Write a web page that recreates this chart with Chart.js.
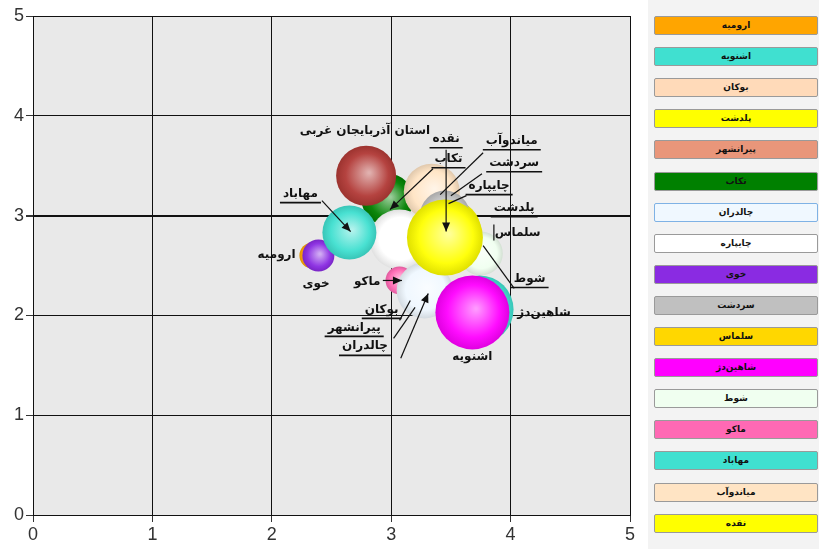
<!DOCTYPE html>
<html>
<head>
<meta charset="utf-8">
<script src="https://cdn.jsdelivr.net/npm/chart.js"></script>
<style>
  html, body { margin:0; padding:0; background:#fff; }
  body { width:819px; height:549px; position:relative; overflow:hidden; }
  #wrap { position:absolute; left:0; top:0; width:645px; height:549px; }
  #legend { position:absolute; left:648px; top:0; width:171px; height:549px; background:#f3f3f3; }
  .lg { position:absolute; left:6px; width:162px; height:17px; border:1px solid #9a9a9a; border-radius:2px;
        font:bold 9px "DejaVu Sans", sans-serif; color:#111; text-align:center; line-height:17px; direction:rtl; }
</style>
</head>
<body>
<div id="wrap"><canvas id="c"></canvas></div>
<div id="legend"></div>
<script>
// cities (legend order) and their bubble values
const cities = ['ارومیه','اشنویه','بوکان','پلدشت','پیرانشهر','تکاب','چالدران','چایپاره','خوی','سردشت','سلماس','شاهین‌دژ','شوط','ماکو','مهاباد','میاندوآب','نقده'];
const xVals  = [2.34, 3.74, 3.28, 3.50, 3.30, 2.97, 3.28, 3.07, 2.39, 3.45, 3.45, 3.68, 3.75, 3.07, 2.65, 3.34, 3.45];
const yVals  = [2.60, 2.06, 2.25, 2.85, 2.28, 3.16, 2.25, 2.76, 2.60, 3.00, 2.78, 2.03, 2.62, 2.35, 2.83, 3.24, 2.78];
const sizes  = [13,   34,   15,   30,   16,   26,   28,   30,   16,   25,   25,   37,   22,   14,   27,   28,   38];
const colors = ['#FFA500','#40E0D0','#FFDAB9','#FFFF00','#E9967A','#008000','#F0F8FF','#FFFFFF','#8A2BE2','#C0C0C0','#FFD700','#FF00FF','#F0FFF0','#FF69B4','#40E0D0','#FFE4C4','#FFFF00'];

// province total (not in the legend)
const provName = 'استان آذربایجان غربی';
const provX = 2.79, provY = 3.40, provR = 30, provColor = '#B23A36';

// back-to-front drawing order
const drawOrder = ['ارومیه','خوی','تکاب','میاندوآب','پلدشت','سردشت','سلماس','چایپاره','مهاباد','شوط','بوکان','پیرانشهر','ماکو','چالدران','اشنویه','شاهین‌دژ','نقده'];

const xTicks = [0,1,2,3,4,5];
const yTicks = [0,1,2,3,4,5];

// legend boxes
const lg = document.getElementById('legend');
cities.forEach((n,i) => {
  const d = document.createElement('div');
  d.className = 'lg';
  d.style.top = (16 + i*31.1) + 'px';
  d.style.background = colors[i];
  if (n === 'چالدران') d.style.borderColor = '#7fb2e5';
  d.textContent = n;
  lg.appendChild(d);
});

function shade(hex, f){
  const n = parseInt(hex.slice(1),16);
  let r=(n>>16)&255, g=(n>>8)&255, b=n&255;
  if (f >= 0){ r += (255-r)*f; g += (255-g)*f; b += (255-b)*f; }
  else { r *= 1+f; g *= 1+f; b *= 1+f; }
  return `rgb(${r|0},${g|0},${b|0})`;
}

const points = drawOrder.map(n => { const i = cities.indexOf(n); return { x:xVals[i], y:yVals[i], r:sizes[i], col:colors[i], name:n }; });
points.splice(drawOrder.indexOf('مهاباد'), 0, { x:provX, y:provY, r:provR, col:provColor, name:provName });

// labels with leader lines, in data units
const notes = [
  { t:'استان آذربایجان غربی', at:[2.78,3.85] },
  { t:'نقده',     at:[3.46,3.77], ul:true, path:[[3.46,3.66],[3.46,2.84]], arrow:true },
  { t:'تکاب',     at:[3.48,3.57], ul:true, path:[[3.35,3.47],[2.99,3.06]], arrow:true },
  { t:'میاندوآب', at:[4.01,3.75], ul:true, path:[[3.77,3.63],[3.41,3.21]] },
  { t:'سردشت',   at:[4.03,3.53], ul:true, path:[[3.76,3.42],[3.50,3.20]] },
  { t:'چایپاره',  at:[3.82,3.30], ul:true, path:[[3.63,3.20],[3.48,3.12]] },
  { t:'پلدشت',   at:[4.03,3.08], ul:true },
  { t:'سلماس',   at:[4.06,2.83], path:[[3.86,2.91],[3.86,2.75]] },
  { t:'شوط',     at:[4.16,2.37], ul:true, path:[[4.03,2.27],[3.77,2.70]] },
  { t:'شاهین‌دژ', at:[4.28,2.03] },
  { t:'اشنویه',  at:[3.68,1.58] },
  { t:'ماکو',    at:[2.80,2.34], path:[[2.93,2.35],[3.09,2.35]], arrow:true },
  { t:'بوکان',   at:[2.92,2.06], ul:true, path:[[3.07,1.95],[3.16,2.15]] },
  { t:'پیرانشهر', at:[2.69,1.88], ul:true, path:[[3.02,1.77],[3.20,2.08]] },
  { t:'چالدران', at:[2.78,1.69], ul:true, path:[[3.08,1.57],[3.31,2.22]], arrow:true },
  { t:'مهاباد',  at:[2.24,3.22], ul:true, path:[[2.42,3.15],[2.66,2.84]], arrow:true },
  { t:'ارومیه',  at:[2.04,2.61] },
  { t:'خوی',     at:[2.37,2.32] }
];

const plotBg = {
  id:'plotBg',
  beforeDraw(chart){
    const {ctx, chartArea:a} = chart;
    ctx.save(); ctx.fillStyle = '#e9e9e9';
    ctx.fillRect(a.left, a.top, a.right-a.left, a.bottom-a.top);
    ctx.restore();
  }
};

const noteLabels = {
  id:'noteLabels',
  afterDatasetsDraw(chart){
    const {ctx, scales:{x, y}} = chart;
    ctx.save();
    ctx.font = 'bold 12px "DejaVu Sans", sans-serif';
    ctx.direction = 'rtl';
    ctx.textAlign = 'center';
    ctx.textBaseline = 'middle';
    ctx.strokeStyle = '#111'; ctx.fillStyle = '#111';
    notes.forEach(n => {
      const tx = x.getPixelForValue(n.at[0]), ty = y.getPixelForValue(n.at[1]);
      ctx.fillText(n.t, tx, ty);
      const w = ctx.measureText(n.t).width;
      if (n.ul){
        ctx.lineWidth = 1.6;
        ctx.beginPath(); ctx.moveTo(tx - w/2 - 3, ty + 9); ctx.lineTo(tx + w/2 + 3, ty + 9); ctx.stroke();
      }
      if (n.path){
        ctx.lineWidth = 1.2;
        const p = n.path.map(q => [x.getPixelForValue(q[0]), y.getPixelForValue(q[1])]);
        ctx.beginPath(); ctx.moveTo(p[0][0], p[0][1]);
        for (let i=1;i<p.length;i++) ctx.lineTo(p[i][0], p[i][1]);
        ctx.stroke();
        if (n.arrow){
          const a = p[p.length-1], b = p[p.length-2];
          const ang = Math.atan2(a[1]-b[1], a[0]-b[0]);
          ctx.beginPath();
          ctx.moveTo(a[0], a[1]);
          ctx.lineTo(a[0] - 9*Math.cos(ang) + 4*Math.sin(ang), a[1] - 9*Math.sin(ang) - 4*Math.cos(ang));
          ctx.lineTo(a[0] - 9*Math.cos(ang) - 4*Math.sin(ang), a[1] - 9*Math.sin(ang) + 4*Math.cos(ang));
          ctx.closePath(); ctx.fill();
        }
      }
    });
    ctx.restore();
  }
};

new Chart(document.getElementById('c'), {
  type:'bubble',
  data:{ datasets:[{
    data: points,
    borderWidth:0,
    hoverBorderWidth:0,
    backgroundColor: c => {
      const p = c.raw, ch = c.chart;
      if (!p || !ch.chartArea) return p ? p.col : '#ccc';
      const px = ch.scales.x.getPixelForValue(p.x), py = ch.scales.y.getPixelForValue(p.y);
      const g = ch.ctx.createRadialGradient(px + p.r*0.1, py - p.r*0.1, 1, px, py, p.r);
      g.addColorStop(0, shade(p.col, 0.6));
      g.addColorStop(0.7, shade(p.col, 0.05));
      g.addColorStop(1, shade(p.col, -0.12));
      return g;
    }
  }]},
  options:{
    responsive:true, maintainAspectRatio:false, animation:false,
    layout:{ autoPadding:false, padding:{ top:16, right:15, left:0, bottom:0 } },
    plugins:{ legend:{ display:false }, tooltip:{ enabled:false } },
    scales:{
      x:{
        type:'linear', min:0, max:5,
        afterBuildTicks: s => { s.ticks = xTicks.map(v => ({ value:v })); },
        afterFit: s => { s.height = 34; },
        ticks:{ color:'#333', font:{ family:'"Liberation Sans", Arial, sans-serif', size:18 }, padding:2 },
        grid:{ color:'#111', lineWidth:1, tickLength:7, tickColor:'#333' },
        border:{ color:'#111', width:1 }
      },
      y:{
        type:'linear', min:0, max:5,
        afterBuildTicks: s => { s.ticks = yTicks.map(v => ({ value:v })); },
        afterFit: s => { s.width = 33; },
        ticks:{ color:'#333', font:{ family:'"Liberation Sans", Arial, sans-serif', size:18 }, padding:2 },
        grid:{ color:'#111', lineWidth: c => (c.tick && c.tick.value === 3) ? 2 : 1, tickLength:7, tickColor:'#333' },
        border:{ color:'#111', width:1 }
      }
    }
  },
  plugins:[plotBg, noteLabels]
});
</script>
</body>
</html>
